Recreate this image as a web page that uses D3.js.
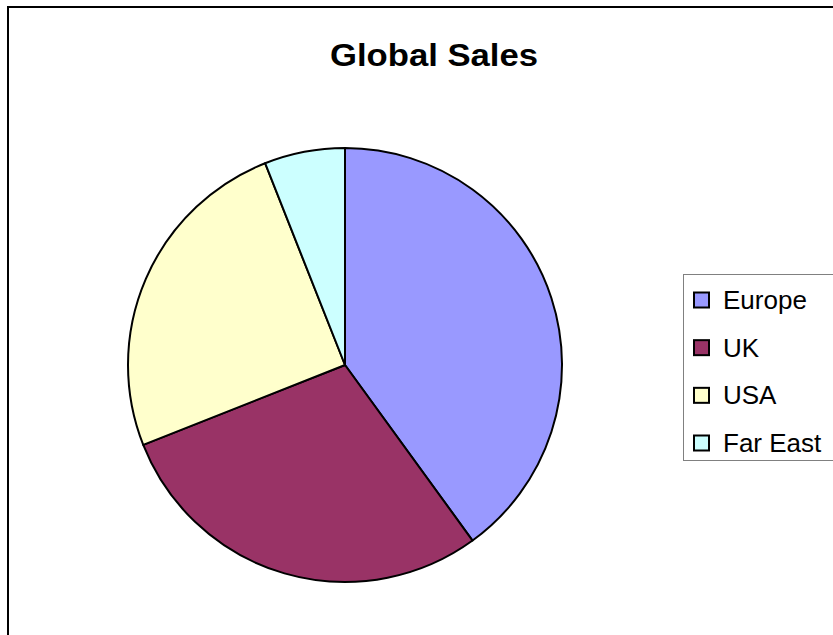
<!DOCTYPE html>
<html>
<head>
<meta charset="utf-8">
<script src="https://cdn.jsdelivr.net/npm/d3@7"></script>
<style>
  html, body { margin: 0; padding: 0; background: #fff; }
  svg { display: block; }
</style>
</head>
<body>
<div id="chart"></div>
<script>
const regions = ['Europe', 'UK', 'USA', 'Far East'];
const sales = [40, 29, 25, 6];
const colors = ['#9999FF', '#993366', '#FFFFCC', '#CCFFFF'];

const width = 833, height = 635;

const svg = d3.select('#chart').append('svg')
    .attr('width', width)
    .attr('height', height);

// chart frame (runs off the right and bottom edge)
svg.append('rect')
    .attr('x', 8).attr('y', 7)
    .attr('width', 900).attr('height', 700)
    .attr('fill', '#fff')
    .attr('stroke', '#000')
    .attr('stroke-width', 2);

svg.append('text')
    .attr('x', 434).attr('y', 66)
    .attr('text-anchor', 'middle')
    .style('font-family', 'Liberation Sans, Arial, sans-serif')
    .style('font-weight', 'bold')
    .style('font-size', '31px')
    .attr('textLength', 208)
    .attr('lengthAdjust', 'spacingAndGlyphs')
    .text('Global Sales');

// pie
const cx = 345, cy = 365, r = 217;
const color = d3.scaleOrdinal().domain(regions).range(colors);

const pie = d3.pie().sort(null).value(d => d.value);
const arc = d3.arc().innerRadius(0).outerRadius(r);
const data = regions.map((name, i) => ({ name, value: sales[i] }));

svg.append('g')
    .attr('transform', `translate(${cx},${cy})`)
    .selectAll('path')
    .data(pie(data))
    .join('path')
    .attr('d', arc)
    .attr('fill', d => color(d.data.name))
    .attr('stroke', '#000')
    .attr('stroke-width', 2)
    .attr('stroke-linejoin', 'round');

// legend
const legend = svg.append('g');
legend.append('rect')
    .attr('x', 683.5).attr('y', 274.5)
    .attr('width', 200).attr('height', 186)
    .attr('fill', '#fff')
    .attr('stroke', '#808080')
    .attr('stroke-width', 1);

const rowY = d3.scalePoint().domain(regions).range([300, 443]);

const item = legend.selectAll('g.item')
    .data(regions)
    .join('g')
    .attr('class', 'item')
    .attr('transform', d => `translate(0,${rowY(d)})`);

item.append('rect')
    .attr('x', 694).attr('y', -7.5)
    .attr('width', 15).attr('height', 15)
    .attr('fill', d => color(d))
    .attr('stroke', '#000')
    .attr('stroke-width', 2);

item.append('text')
    .attr('x', 723).attr('y', 9)
    .style('font-family', 'Liberation Sans, Arial, sans-serif')
    .style('font-size', '26px')
    .text(d => d);
</script>
</body>
</html>
